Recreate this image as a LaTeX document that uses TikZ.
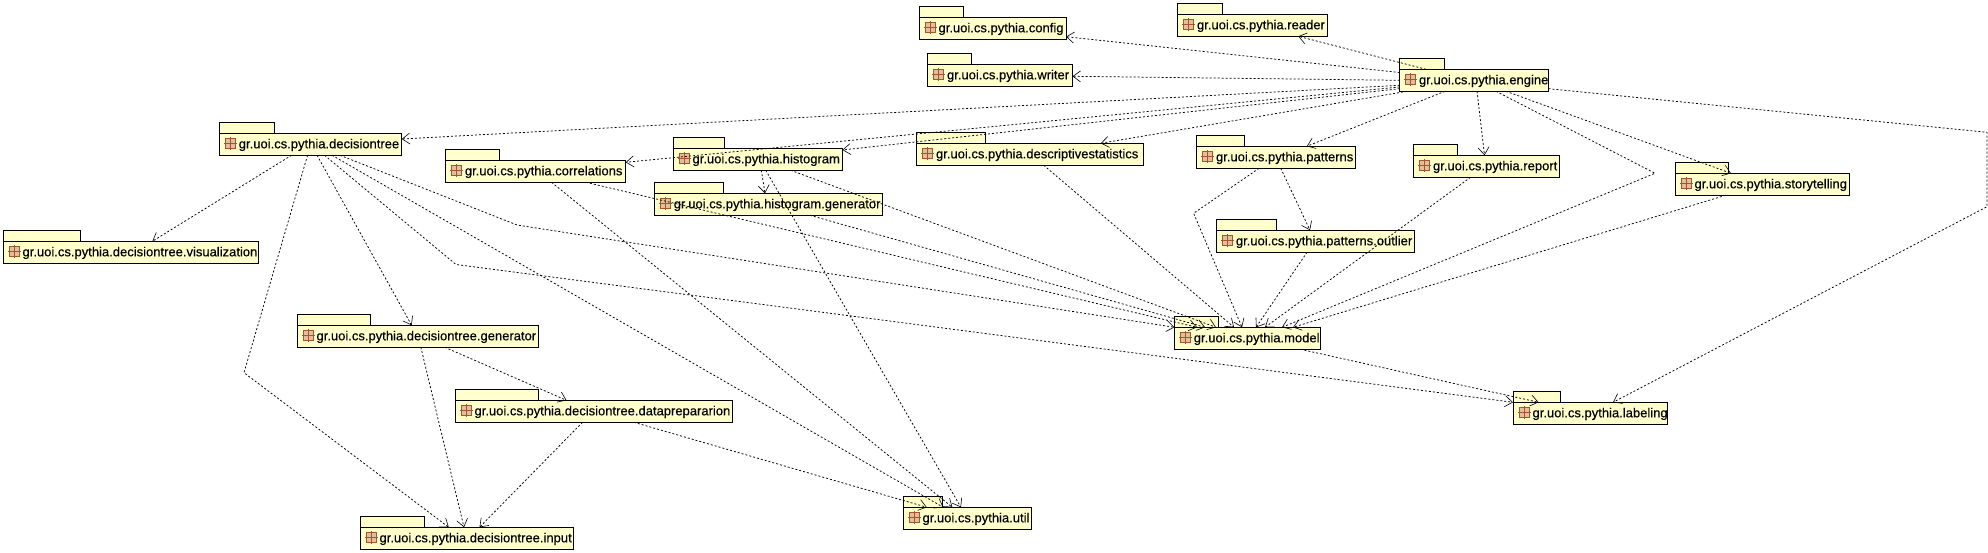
\documentclass[tikz,border=0pt]{standalone}
\usepackage{fontspec}
\setmainfont{Liberation Sans}[FakeBold=0.35]
\usepackage{tikz}
\usetikzlibrary{arrows.meta}

\definecolor{pkgfill}{RGB}{255,255,204}
\definecolor{iconfill}{RGB}{226,190,160}
\definecolor{iconline}{RGB}{165,85,40}

\tikzset{
    pkgbody/.style={draw=black, fill=pkgfill, line width=1pt, anchor=north west, outer sep=0pt, inner xsep=4.5pt, inner ysep=0pt,
        minimum height=22pt, align=left, text height=9.3pt, text depth=1.3pt},
    pkgtab/.style={draw=black, fill=pkgfill, line width=1pt, anchor=south west, outer sep=0pt, inner sep=0pt, minimum height=11pt},
    pkgicon/.style={draw=iconline, fill=iconfill, line width=0.8pt, minimum size=10pt, inner sep=0pt, outer sep=0pt},
    dep/.style={draw=black, line width=0.75pt, dash pattern=on 2pt off 2pt, -{Straight Barb[length=7.5pt,width=11pt,line width=0.6pt]}},
}

\begin{document}
\begin{tikzpicture}[x=1pt, y=-1pt, font=\fontsize{13}{14}\selectfont]
    \useasboundingbox (0,0) rectangle (1988,553);

    % Packages
    \foreach \pname/\bx/\by/\bw/\tabw/\ptext in {
        config/919/17.3/147/44/gr.uoi.cs.pythia.config,
        reader/1177.5/14.3/149.5/44.5/gr.uoi.cs.pythia.reader,
        writer/927.5/64.3/145/43.5/gr.uoi.cs.pythia.writer,
        engine/1399.5/69.3/149/44.5/gr.uoi.cs.pythia.engine,
        dt/219.3/133.3/182.5/55/gr.uoi.cs.pythia.decisiontree,
        corr/445.4/160.3/180.3/54/gr.uoi.cs.pythia.correlations,
        hist/673/148.3/169.5/51/gr.uoi.cs.pythia.histogram,
        descstat/916.5/143.3/226.5/68.5/gr.uoi.cs.pythia.descriptivestatistics,
        patterns/1196.5/146.3/158.5/47.5/gr.uoi.cs.pythia.patterns,
        report/1413.5/155.3/146/43.5/gr.uoi.cs.pythia.report,
        story/1675/173.3/174/53.5/gr.uoi.cs.pythia.storytelling,
        histgen/654.3/193.3/228.2/68.7/gr.uoi.cs.pythia.histogram.generator,
        vis/3/241.3/255.7/77.7/gr.uoi.cs.pythia.decisiontree.visualization,
        outlier/1216.4/230.3/198.2/60/gr.uoi.cs.pythia.patterns.outlier,
        dtgen/297/325.3/241.7/73/gr.uoi.cs.pythia.decisiontree.generator,
        model/1174.3/327.3/146.4/43.7/gr.uoi.cs.pythia.model,
        dataprep/455/400.3/277/83/gr.uoi.cs.pythia.decisiontree.dataprepararion,
        labeling/1513/402.3/154/47/gr.uoi.cs.pythia.labeling,
        util/903/507.3/128.7/39.7/gr.uoi.cs.pythia.util,
        input/360/527.3/213/64/gr.uoi.cs.pythia.decisiontree.input} {
        \node[pkgtab, minimum width=\tabw pt] (\pname tab) at (\bx,\by) {};
        \node[pkgbody, minimum width=\bw pt, text width=\bw pt-9pt] (\pname) at (\bx,\by) {\hspace*{15pt}\ptext};
        \node[pkgicon] (\pname icon) at ([xshift=11pt,yshift=1pt]\pname.west) {};
        \draw[iconline, line width=0.7pt] ([xshift=-6.5pt]\pname icon.center) -- ([xshift=6.5pt]\pname icon.center)
            ([yshift=-6.5pt]\pname icon.center) -- ([yshift=6.5pt]\pname icon.center);
    }

    % Bend points
    \coordinate (engbend) at (1655,173.3);
    \coordinate (labbenda) at (1987,132.3);
    \coordinate (labbendb) at (1987,206.7);
    \coordinate (inbend) at (244,372.7);
    \coordinate (modbend) at (517,225);
    \coordinate (dtlabbend) at (456,264.5);
    \coordinate (patbend) at (1193.6,213.3);

    % Edges from engine
    \draw[dep] ([yshift=7.8pt]engine.west) -- ([yshift=-8.4pt]config.east);
    \draw[dep] ([xshift=-48pt]engine.north) -- ([xshift=46pt]reader.south);
    \draw[dep] (engine.west) -- ([yshift=-1pt]writer.east);
    \draw[dep] ([yshift=-5pt]engine.west) -- ([yshift=5.3pt]dt.east);
    \draw[dep] ([yshift=-6.7pt]engine.west) -- ([yshift=9pt]corr.east);
    \draw[dep] ([yshift=-8.4pt]engine.west) -- ([yshift=9.3pt]hist.east);
    \draw[dep] ([xshift=-67pt]engine.south) -- ([xshift=71pt]descstat.north);
    \draw[dep] ([xshift=-29pt]engine.south) -- ([xshift=31pt]patterns.north);
    \draw[dep] ([xshift=3pt]engine.south) -- ([xshift=-2pt]report.north);
    \draw[dep] ([xshift=32pt]engine.south) -- ([xshift=-31pt]story.north);
    \draw[dep] ([xshift=22pt]engine.south) -- (engbend) -- ([xshift=34.5pt]model.north);
    \draw[dep] ([yshift=-8.4pt]engine.east) -- (labbenda) -- (labbendb) -- ([xshift=23pt]labeling.north);

    % Edges from decisiontree
    \draw[dep] ([xshift=-19pt]dt.south) -- ([xshift=21.5pt]vis.north);
    \draw[dep] ([xshift=-3pt]dt.south) -- (inbend) -- ([xshift=-17.7pt]input.north);
    \draw[dep] ([xshift=6.5pt]dt.south) -- ([xshift=-6.2pt]dtgen.north);
    \draw[dep] ([xshift=29.5pt]dt.south) -- (modbend) -- ([xshift=-73pt]model.north);
    \draw[dep] ([xshift=14pt]dt.south) -- (dtlabbend) -- (labeling.north west);
    \draw[dep] ([xshift=21.5pt]dt.south) -- ([xshift=-24pt]util.north);
    \draw[dep] ([xshift=3pt]dtgen.south) -- ([xshift=-2.5pt]input.north);
    \draw[dep] ([xshift=27pt]dtgen.south) -- ([xshift=-27pt]dataprep.north);
    \draw[dep] ([xshift=-11pt]dataprep.south) -- ([xshift=13pt]input.north);
    \draw[dep] ([xshift=40.5pt]dataprep.south) -- ([xshift=-40.5pt]util.north);

    % Other edges
    \draw[dep] ([xshift=16pt]corr.south) -- ([xshift=-15pt]util.north);
    \draw[dep] ([xshift=50.5pt]corr.south) -- ([xshift=-50.5pt]model.north);
    \draw[dep] ([xshift=3.6pt]hist.south) -- ([xshift=-3.4pt]histgen.north);
    \draw[dep] ([xshift=8pt]hist.south) -- ([xshift=-6.4pt]util.north);
    \draw[dep] ([xshift=33pt]hist.south) -- ([xshift=-31.5pt]model.north);
    \draw[dep] ([xshift=41.6pt]histgen.south) -- ([xshift=-42.5pt]model.north);
    \draw[dep] ([xshift=14pt]descstat.south) -- ([xshift=-13.5pt]model.north);
    \draw[dep] ([xshift=5pt]patterns.south) -- ([xshift=-5.5pt]outlier.north);
    \draw[dep] ([xshift=-16.7pt]patterns.south) -- (patbend) -- ([xshift=-5.5pt]model.north);
    \draw[dep] ([xshift=-8.5pt]outlier.south) -- ([xshift=8.5pt]model.north);
    \draw[dep] ([xshift=-16pt]report.south) -- ([xshift=17.5pt]model.north);
    \draw[dep] ([xshift=-36.5pt]story.south) -- ([xshift=45.5pt]model.north);
    \draw[dep] ([xshift=53pt]model.south) -- ([xshift=-51.4pt]labeling.north);
\end{tikzpicture}
\end{document}
